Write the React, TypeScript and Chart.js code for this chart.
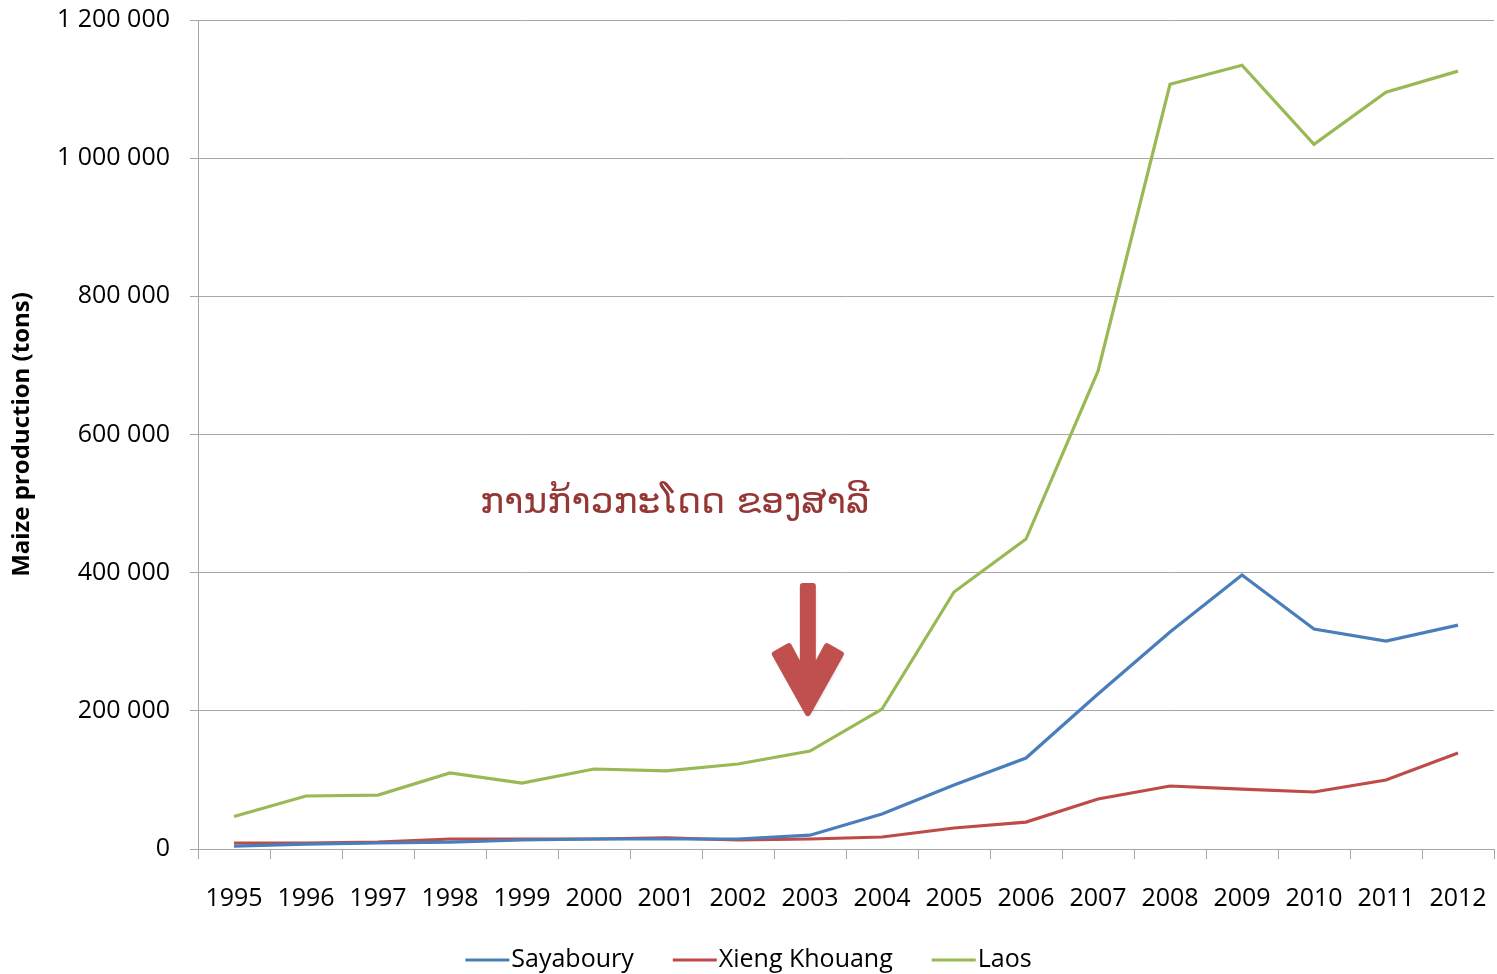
import React, { useEffect, useRef } from "react";
import { Chart, registerables } from "chart.js";

Chart.register(...registerables);

const years = ["1995","1996","1997","1998","1999","2000","2001","2002","2003","2004","2005","2006","2007","2008","2009","2010","2011","2012"];
const sayaboury = [4300,7200,8700,10000,13000,14500,14500,14500,20000,50600,92600,131700,224300,314000,396500,318400,301000,324000];
const xiengKhouang = [8700,8700,10000,14500,14500,14500,16000,13000,14500,17400,30400,39000,72400,91200,86800,82500,99800,139000];
const laos = [47000,76700,78000,110000,95500,115800,113000,123000,141800,202600,372000,448600,691700,1107000,1134600,1020000,1095500,1126000];
const seriesLabels = ["Sayaboury", "Xieng Khouang", "Laos"];
const seriesColors = ["#4A7EBB", "#BE4B48", "#98B954"];
const annotationText = "ການກ້າວກະໂດດ ຂອງສາລີ";
const annotationAt = { index: 6.12, value: 500000 };
const arrowAt = { index: 7.97, from: 385000, to: 191000 };
const yTitle = "Maize production (tons)";

const FONT = "'Open Sans', 'Liberation Sans', sans-serif";

const fmt = (v: number) => String(v).replace(/\B(?=(\d{3})+(?!\d))/g, " ");

const overlayPlugin = {
  id: "overlay",
  afterDraw(chart: any) {
    const ctx = chart.ctx as CanvasRenderingContext2D;
    const xs = chart.scales.x;
    const ys = chart.scales.y;
    // annotation text
    ctx.save();
    ctx.fillStyle = "#953735";
    ctx.font = `36px 'DejaVu Sans', 'Noto Sans', sans-serif`;
    ctx.textAlign = "center";
    ctx.textBaseline = "middle";
    ctx.fillText(annotationText, xs.getPixelForValue(annotationAt.index), ys.getPixelForValue(annotationAt.value));
    ctx.restore();

    // arrow
    const ax = xs.getPixelForValue(arrowAt.index);
    const y0 = ys.getPixelForValue(arrowAt.from);
    const y1 = ys.getPixelForValue(arrowAt.to);
    ctx.save();
    ctx.shadowColor = "rgba(0,0,0,0.35)";
    ctx.shadowBlur = 4;
    ctx.shadowOffsetX = 1;
    ctx.shadowOffsetY = 2;
    ctx.fillStyle = "#C0504D";
    ctx.strokeStyle = "#C0504D";
    ctx.lineWidth = 6;
    ctx.lineJoin = "round";
    ctx.beginPath();
    ctx.moveTo(ax - 5, y0 + 3);
    ctx.lineTo(ax + 5, y0 + 3);
    ctx.lineTo(ax + 5, y1 - 45);
    ctx.lineTo(ax + 19, y1 - 71);
    ctx.lineTo(ax + 33, y1 - 63);
    ctx.lineTo(ax, y1 - 4);
    ctx.lineTo(ax - 33, y1 - 63);
    ctx.lineTo(ax - 19, y1 - 71);
    ctx.lineTo(ax - 5, y1 - 45);
    ctx.closePath();
    ctx.fill();
    ctx.shadowColor = "transparent";
    ctx.stroke();
    ctx.restore();

    // legend
    ctx.save();
    ctx.font = `25px ${FONT}`;
    ctx.textBaseline = "middle";
    const lineLen = 44;
    const gapText = 2;
    const gapItems = 39;
    const ds = chart.data.datasets;
    const widths = ds.map((d: any) => lineLen + gapText + ctx.measureText(d.label).width);
    const total = widths.reduce((a: number, b: number) => a + b, 0) + gapItems * (ds.length - 1);
    let x = chart.width / 2 - total / 2;
    const ly = 960;
    ds.forEach((d: any, i: number) => {
      ctx.strokeStyle = d.borderColor;
      ctx.lineWidth = 3;
      ctx.beginPath();
      ctx.moveTo(x, ly);
      ctx.lineTo(x + lineLen, ly);
      ctx.stroke();
      ctx.fillStyle = "#000";
      ctx.fillText(d.label, x + lineLen + gapText, ly);
      x += widths[i] + gapItems;
    });
    ctx.restore();
  },
};

export default function App() {
  const ref = useRef<HTMLCanvasElement>(null);
  useEffect(() => {
    document.body.style.margin = "0";
    const data = [sayaboury, xiengKhouang, laos];
    const chart = new Chart(ref.current!, {
      type: "line",
      data: {
        labels: years,
        datasets: data.map((d, i) => ({
          label: seriesLabels[i],
          data: d,
          borderColor: seriesColors[i],
          backgroundColor: seriesColors[i],
          borderWidth: 3.2,
          pointRadius: 0,
          tension: 0,
        })),
      },
      options: {
        animation: false,
        responsive: false,
        devicePixelRatio: 1,
        layout: { padding: { top: 20, right: 3, left: 0, bottom: 0 } },
        plugins: { legend: { display: false }, tooltip: { enabled: false } },
        scales: {
          x: {
            offset: true,
            grid: { drawOnChartArea: false, color: "#A6A6A6", tickLength: 10, offset: true },
            border: { color: "#A6A6A6" },
            ticks: { color: "#000", font: { family: FONT, size: 25 }, padding: 25, maxRotation: 0, autoSkip: false },
            afterFit: (s: any) => { s.height = 125; s.paddingLeft = 0; s.paddingRight = 0; },
          },
          y: {
            min: 0,
            max: 1200000,
            ticks: { stepSize: 200000, color: "#000", font: { family: FONT, size: 25 }, padding: 20, callback: (v: any) => fmt(v) },
            grid: { color: "#A6A6A6", tickLength: 8 },
            border: { color: "#A6A6A6" },
            title: { display: true, text: yTitle, color: "#000", font: { family: FONT, size: 24, weight: "bold" }, padding: { top: 8, bottom: 0 } },
            afterFit: (s: any) => { s.width = 198; s.paddingTop = 0; s.paddingBottom = 0; },
          },
        },
      },
      plugins: [overlayPlugin],
    });
    return () => chart.destroy();
  }, []);
  return (
    <div style={{ position: "absolute", left: 0, top: 0, width: 1497, height: 974 }}>
      <canvas ref={ref} width={1497} height={974} style={{ width: 1497, height: 974 }} />
    </div>
  );
}
